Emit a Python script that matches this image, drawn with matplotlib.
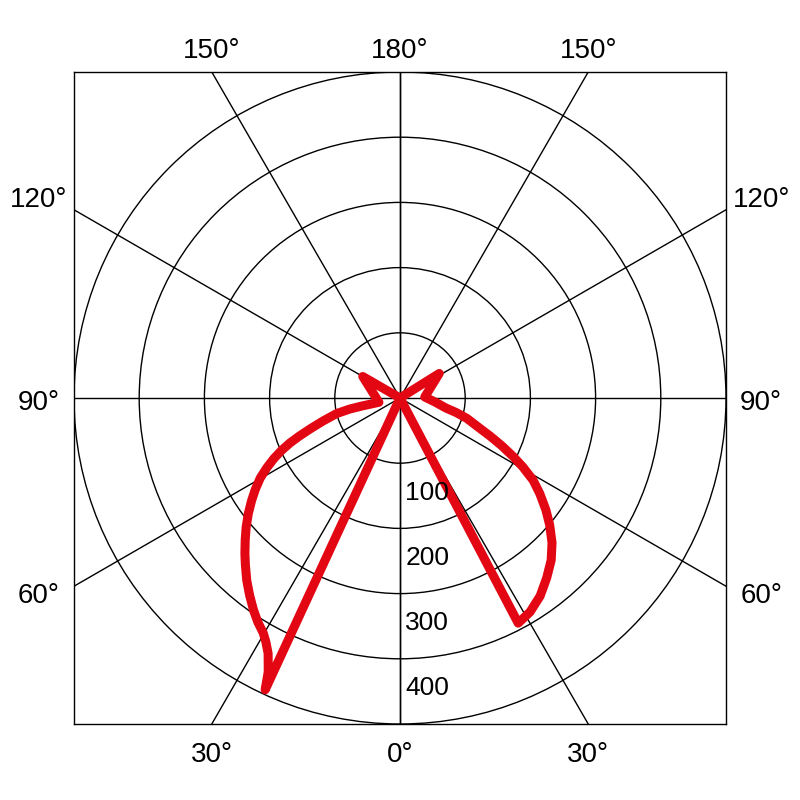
import numpy as np
import matplotlib
matplotlib.use("Agg")
import matplotlib.pyplot as plt
from matplotlib.patches import Circle

plt.rcParams['font.family'] = ['Liberation Sans', 'DejaVu Sans']

# luminous intensity (cd) against angle from nadir (deg)
gamma_left = [0, 24.8, 25.7, 27.3, 28.8, 30.2, 32.4, 34.7, 37.4, 40.1, 42.8, 44.9,
              47.5, 50.0, 52.6, 55.3, 57.8, 60.2, 62.3, 64.3, 66.1, 67.8, 69.2,
              71.0, 73.4, 76.2, 77.6, 78.1, 78.5, 120, 125]
cd_left = [0, 493, 466, 441, 427, 417, 407, 395, 380, 365, 349, 337,
           322, 308, 293, 277, 262, 247, 231, 215, 199, 182, 166,
           146, 123, 100, 79, 60, 33, 66, 0]

gamma_right = [0, 27.7, 31.3, 35.3, 39.2, 43.0, 46.4, 49.7, 52.5, 55.6, 58.3,
               60.7, 62.6, 64.8, 67.1, 69.6, 73.1, 75.5, 77.7, 83.5, 92.3, 122, 126]
cd_right = [0, 390, 384, 372, 356, 340, 322, 301, 282, 260, 240,
            216, 196, 173, 150, 128, 107, 89, 72, 54, 38, 71, 0]

rings = [100, 200, 300, 400, 500]
ring_labels = ['100', '200', '300', '400']
spoke_angles = [0, 30, 60, 90, 120, 150, 180]

R = 500
red = '#e30613'


def to_xy(gamma, cd, side):
    g = np.radians(np.asarray(gamma, dtype=float))
    r = np.asarray(cd, dtype=float)
    return side * r * np.sin(g), -r * np.cos(g)


fig = plt.figure(figsize=(8, 8), dpi=100)
ax = fig.add_axes([74/800, 76/800, 652/800, 652/800])
ax.set_xlim(-R, R)
ax.set_ylim(-R, R)
ax.set_xticks([])
ax.set_yticks([])
for s in ax.spines.values():
    s.set_linewidth(1.0)
    s.set_color('black')

# grid: rings and spokes
for v in rings:
    ax.add_patch(Circle((0, 0), v, fill=False, lw=1.0, color='black', zorder=1))
for a in spoke_angles:
    t = np.radians(a)
    for side in (-1, 1):
        ax.plot([0, side * 2000 * np.sin(t)], [0, -2000 * np.cos(t)],
                color='black', lw=1.0, zorder=1)

# intensity curves
for gam, cd, side in [(gamma_left, cd_left, -1), (gamma_right, cd_right, 1)]:
    x, y = to_xy(gam, cd, side)
    ax.plot(x, y, color=red, lw=6.5, solid_joinstyle='round',
            solid_capstyle='round', zorder=3)

# ring values
for v, lab in zip(rings, ring_labels):
    ax.text(8, -(v + 56), lab, fontsize=19, ha='left', va='baseline', zorder=4)

# angle labels
edge = R * np.tan(np.radians(30))
for side in (-1, 1):
    ax.text(side * edge, 521, '150°', fontsize=20, ha='center', va='baseline')
    ax.text(side * edge, -558, '30°', fontsize=20, ha='center', va='baseline')
    ax.text(side * 554, 293, '120°', fontsize=20, ha='center', va='baseline')
    ax.text(side * 554, -18, '90°', fontsize=20, ha='center', va='baseline')
    ax.text(side * 554, -315, '60°', fontsize=20, ha='center', va='baseline')
ax.text(0, 521, '180°', fontsize=20, ha='center', va='baseline')
ax.text(0, -558, '0°', fontsize=20, ha='center', va='baseline')

plt.savefig('out.png', dpi=100)
